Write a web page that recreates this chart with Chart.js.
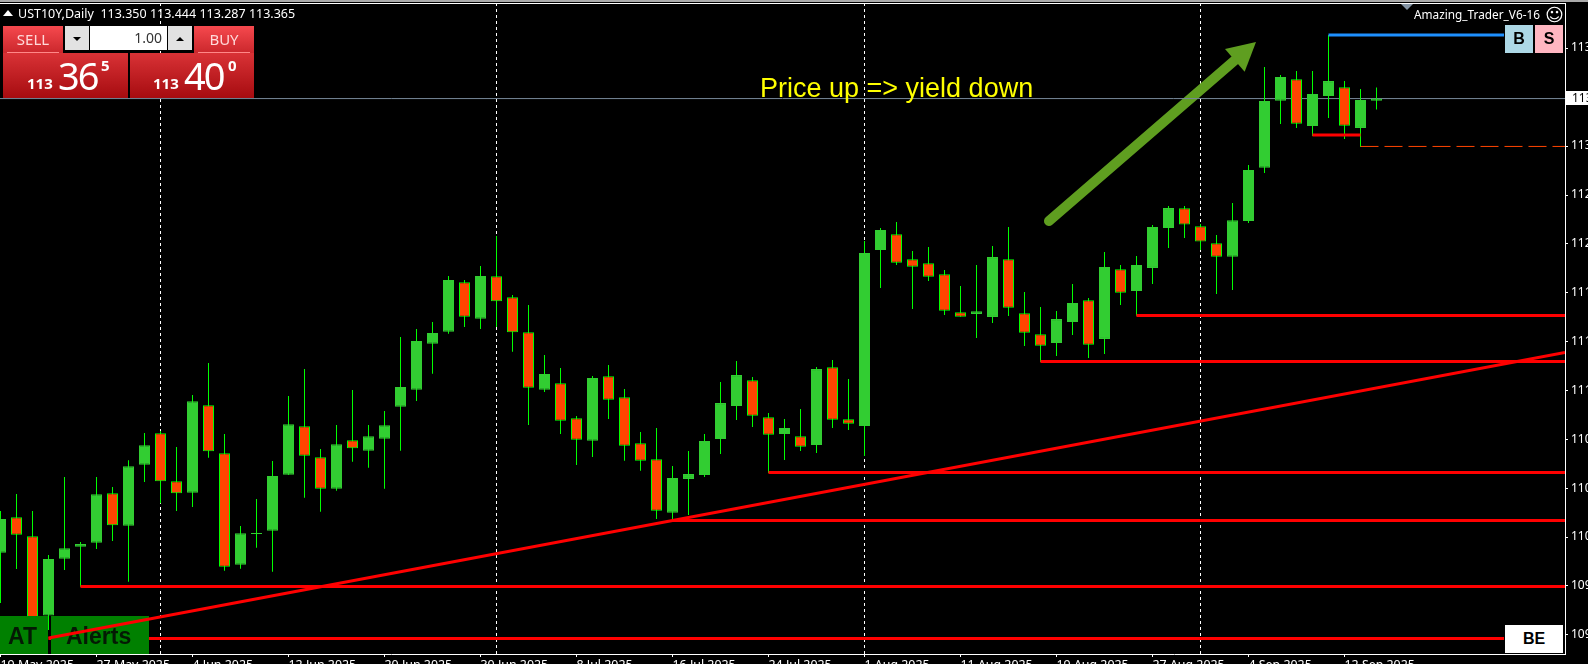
<!DOCTYPE html>
<html>
<head>
<meta charset="utf-8">
<title>UST10Y Daily</title>
<script src="https://cdn.jsdelivr.net/npm/chart.js@4/dist/chart.umd.min.js"></script>
<style>
  html, body { margin: 0; padding: 0; background: #000; overflow: hidden; }
  #wrap { position: relative; width: 1588px; height: 664px; overflow: hidden; font-family: "Noto Sans", sans-serif; color: #fff; }
  #wrap div, #wrap span { position: absolute; white-space: nowrap; }
  canvas { position: absolute; left: 0; top: 0; }
  .redTop { background: linear-gradient(#f6494e, #c9262b); color: #ffd9d9; font-size: 15px; text-align: center; line-height: 26px; }
  .redBig { background: linear-gradient(#d93236, #a60c10); }
  .small { font-size: 15px; font-weight: bold; }
  .big { font-size: 38px; letter-spacing: -2px; }
  .spin { background: #e2e2e2; }
  .sideBtn { color: #000; font: bold 16px "Liberation Sans", sans-serif; text-align: center; line-height: 28px; }
</style>
</head>
<body>
<div id="wrap">
  <canvas id="myChart" width="1588" height="664"></canvas>

  <div style="left:0;top:0;width:1588px;height:2px;background:#aaa"></div>
  <div style="left:0;top:3px;width:1565px;height:1px;background:#fff"></div>

  <div style="left:3px;top:10px;width:0;height:0;border-left:5px solid transparent;border-right:5px solid transparent;border-bottom:6px solid #fff"></div>
  <div style="left:18px;top:5px;font-size:12.5px;line-height:17px;white-space:pre">UST10Y,Daily  113.350 113.444 113.287 113.365</div>

  <div class="redTop" style="left:3px;top:26px;width:60px;height:28px">SELL</div>
  <div style="left:7px;top:52px;width:52px;height:1px;background:#f88"></div>
  <div class="redBig" style="left:3px;top:53px;width:125px;height:45px"></div>
  <span class="small" style="left:27px;top:73px">113</span>
  <span class="big" style="left:58px;top:49px">36</span>
  <span class="small" style="left:101px;top:55px">5</span>

  <div class="redTop" style="left:194px;top:26px;width:60px;height:28px">BUY</div>
  <div style="left:198px;top:52px;width:52px;height:1px;background:#f88"></div>
  <div class="redBig" style="left:130px;top:53px;width:124px;height:45px"></div>
  <span class="small" style="left:153px;top:73px">113</span>
  <span class="big" style="left:184px;top:49px">40</span>
  <span class="small" style="left:228px;top:55px">0</span>

  <div class="spin" style="left:65px;top:26px;width:24px;height:24px"></div>
  <div style="left:73px;top:37px;width:0;height:0;border-left:4px solid transparent;border-right:4px solid transparent;border-top:4px solid #000"></div>
  <div style="left:90px;top:26px;width:77px;height:24px;background:#fff;color:#333;font-size:14px;line-height:24px;text-align:right;padding-right:5px;box-sizing:border-box">1.00</div>
  <div class="spin" style="left:168px;top:26px;width:24px;height:24px"></div>
  <div style="left:176px;top:37px;width:0;height:0;border-left:4px solid transparent;border-right:4px solid transparent;border-bottom:4px solid #000"></div>

  <div style="left:760px;top:73px;font:27px 'Liberation Sans', sans-serif;color:#ffff00">Price up =&gt; yield down</div>

  <div style="left:1401px;top:4px;width:0;height:0;border-left:6px solid transparent;border-right:6px solid transparent;border-top:6px solid #8494a4"></div>
  <div style="left:1414px;top:6px;font-size:11.8px;line-height:17px">Amazing_Trader_V6-16</div>
  <div style="left:1545px;top:3px;font:18px 'DejaVu Sans', sans-serif;line-height:24px">☺</div>

  <div class="sideBtn" style="left:1505px;top:25px;width:28px;height:28px;background:#add8e6">B</div>
  <div class="sideBtn" style="left:1535px;top:25px;width:28px;height:28px;background:#ffb6c1">S</div>
  <div class="sideBtn" style="left:1505px;top:625px;width:58px;height:28px;background:#fff">BE</div>

  <div style="left:1566px;top:91px;width:22px;height:14px;background:#fff;color:#000;font-size:12px;line-height:14px;padding-left:6px;box-sizing:border-box">113</div>
</div>

<script>
'use strict';

// daily bars, 19 May 2025 to the last bar
let opens = [
  110.121, 110.374, 110.238, 109.673, 110.078, 110.164, 110.193, 110.545, 110.314, 110.750,
  110.974, 110.631, 110.550, 111.174, 110.831, 110.035, 110.255, 110.278, 110.678, 111.024,
  110.803, 110.578, 110.924, 110.850, 110.935, 111.164, 111.285, 111.614, 111.700, 112.053,
  111.793, 112.095, 111.945, 111.695, 111.285, 111.331, 111.081, 110.921, 111.381, 111.231,
  110.903, 110.788, 110.407, 110.648, 110.676, 110.933, 111.169, 111.353, 111.088, 110.969,
  110.953, 110.890, 111.445, 111.074, 111.026, 112.283, 112.395, 112.217, 112.188, 112.110,
  111.838, 111.826, 111.805, 112.217, 111.831, 111.681, 111.619, 111.769, 111.924, 111.648,
  112.145, 111.990, 112.155, 112.440, 112.581, 112.453, 112.331, 112.235, 112.490, 112.871,
  113.350, 113.503, 113.169, 113.383, 113.445, 113.155, 113.350
];
let highs = [
  110.419, 110.540, 110.419, 110.105, 110.662, 110.198, 110.662, 110.590, 110.781, 110.976,
  110.990, 110.876, 111.248, 111.476, 110.969, 110.312, 110.505, 110.776, 111.240, 111.433,
  110.862, 111.033, 111.283, 111.033, 111.133, 111.662, 111.719, 111.769, 112.098, 112.069,
  112.169, 112.383, 111.962, 111.890, 111.533, 111.440, 111.098, 111.383, 111.462, 111.290,
  110.983, 111.012, 110.740, 110.848, 110.969, 111.340, 111.490, 111.376, 111.119, 111.076,
  111.148, 111.448, 111.498, 111.362, 112.348, 112.440, 112.483, 112.276, 112.305, 112.140,
  112.026, 112.176, 112.312, 112.448, 111.983, 111.876, 111.848, 112.040, 111.940, 112.269,
  112.176, 112.240, 112.462, 112.598, 112.598, 112.469, 112.390, 112.619, 112.890, 113.590,
  113.533, 113.562, 113.562, 113.819, 113.490, 113.433, 113.444
];
let lows = [
  109.762, 110.005, 109.569, 109.569, 109.998, 109.878, 110.148, 110.205, 109.914, 110.626,
  110.474, 110.419, 110.448, 110.800, 109.993, 110.007, 110.157, 109.985, 110.676, 110.514,
  110.414, 110.564, 110.771, 110.728, 110.578, 110.850, 111.205, 111.400, 111.685, 111.733,
  111.719, 111.733, 111.557, 111.033, 111.269, 110.969, 110.748, 110.805, 111.076, 110.778,
  110.707, 110.362, 110.362, 110.390, 110.662, 110.826, 111.069, 111.019, 110.690, 110.783,
  110.848, 110.833, 111.012, 110.998, 110.812, 112.012, 112.176, 111.862, 112.062, 111.819,
  111.807, 111.655, 111.762, 111.812, 111.598, 111.483, 111.526, 111.676, 111.512, 111.540,
  111.890, 111.814, 112.040, 112.298, 112.369, 112.283, 111.969, 111.998, 112.476, 112.833,
  113.183, 113.155, 113.098, 113.226, 113.076, 113.019, 113.287
];
let closes = [
  110.362, 110.250, 109.626, 110.076, 110.153, 110.183, 110.538, 110.317, 110.738, 110.888,
  110.631, 110.545, 111.203, 110.845, 110.021, 110.260, 110.260, 110.669, 111.038, 110.814,
  110.578, 110.895, 110.867, 110.953, 111.031, 111.305, 111.633, 111.690, 112.069, 111.807,
  112.098, 111.917, 111.695, 111.300, 111.398, 111.064, 110.928, 111.369, 111.214, 110.885,
  110.778, 110.421, 110.655, 110.683, 110.919, 111.190, 111.390, 111.100, 110.964, 111.012,
  110.878, 111.433, 111.071, 111.043, 112.262, 112.426, 112.193, 112.164, 112.093, 111.850,
  111.807, 111.845, 112.233, 111.871, 111.693, 111.600, 111.790, 111.905, 111.607, 112.162,
  111.978, 112.176, 112.448, 112.583, 112.465, 112.344, 112.235, 112.495, 112.855, 113.348,
  113.519, 113.185, 113.398, 113.490, 113.171, 113.355, 113.365
];

// axes
let dateLabels = ['19 May 2025', '27 May 2025', '4 Jun 2025', '12 Jun 2025', '20 Jun 2025', '30 Jun 2025', '8 Jul 2025', '16 Jul 2025', '24 Jul 2025', '1 Aug 2025', '11 Aug 2025', '19 Aug 2025', '27 Aug 2025', '4 Sep 2025', '12 Sep 2025'];
let dateTickBars = [0, 6, 12, 18, 24, 30, 36, 42, 48, 54, 60, 66, 72, 78, 84];
let priceTicks = [113.726, 113.376, 113.026, 112.676, 112.327, 111.980, 111.630, 111.281, 110.932, 110.582, 110.233, 109.884, 109.535];
let priceLabels = ['113', '113', '113', '112', '112', '111', '111', '111', '110', '110', '110', '109', '109'];
let xMin = -0.03125;
let xMax = 97.78125;
let yMin = 109.3976;
let yMax = 114.0476;

// month separators
let separatorBars = [10, 31, 54, 75];

// drawn objects on the chart
let bidPrice = 113.365;
let levelPrices = [111.815, 111.487, 110.694, 110.351, 109.880, 109.508];
let levelStarts = [71, 65, 48, 42, 5, 3];
let levelEnds = [97.78, 97.78, 97.78, 97.78, 97.78, 93.97];
let bluePrice = 113.819;
let blueBars = [83, 93.97];
let shortRedPrice = 113.105;
let shortRedBars = [82, 85];
let dashedPrice = 113.023;
let dashedBars = [85, 97.78];
let trendBars = [3, 97.78];
let trendPrices = [109.512, 111.551];
let arrowBars = [65.53, 78.47];
let arrowPrices = [112.490, 113.769];

let green = '#32cd32';
let lime = '#00ff00';
let orange = '#ff4500';

function hLine(label, price, from, to, color, width, order, dash) {
  return {
    type: 'line',
    label: label,
    data: [{ x: from, y: price }, { x: to, y: price }],
    borderColor: color,
    borderWidth: width,
    borderDash: dash || [],
    pointRadius: 0,
    order: order
  };
}

let wickBars = [];
let bodyBars = [];
let bodyColors = [];
let edgeColors = [];
for (let i = 0; i < opens.length; i++) {
  wickBars.push({ x: i, y: [lows[i], highs[i]] });
  bodyBars.push({ x: i, y: [opens[i], closes[i]] });
  bodyColors.push(closes[i] >= opens[i] ? green : orange);
  edgeColors.push(closes[i] >= opens[i] ? green : lime);
}

let datasets = [];

for (let i = 0; i < separatorBars.length; i++) {
  datasets.push({
    type: 'line',
    label: 'separator' + i,
    data: [{ x: separatorBars[i], y: yMax }, { x: separatorBars[i], y: yMin }],
    borderColor: '#fff',
    borderWidth: 1,
    borderDash: [3, 3],
    pointRadius: 0,
    order: 100
  });
}

datasets.push(hLine('bid', bidPrice, xMin, xMax, '#778899', 1, 90));

datasets.push({
  type: 'bar',
  label: 'wicks',
  data: wickBars,
  backgroundColor: lime,
  borderWidth: 0,
  barThickness: 1,
  grouped: false,
  inflateAmount: 0,
  order: 80
});
datasets.push({
  type: 'bar',
  label: 'bodies',
  data: bodyBars,
  backgroundColor: bodyColors,
  borderColor: edgeColors,
  borderWidth: 1,
  borderSkipped: false,
  barThickness: 11,
  minBarLength: 1,
  grouped: false,
  inflateAmount: 0,
  order: 70
});

for (let i = 0; i < levelPrices.length; i++) {
  datasets.push(hLine('level' + i, levelPrices[i], levelStarts[i], levelEnds[i], '#ff0000', 3, 60));
}
datasets.push(hLine('blue', bluePrice, blueBars[0], blueBars[1], '#1e90ff', 3, 60));
datasets.push(hLine('shortRed', shortRedPrice, shortRedBars[0], shortRedBars[1], '#ff0000', 3, 60));
datasets.push(hLine('dashed', dashedPrice, dashedBars[0], dashedBars[1], orange, 1, 60, [18, 6]));

datasets.push({
  type: 'line',
  label: 'trend',
  data: [{ x: trendBars[0], y: trendPrices[0] }, { x: trendBars[1], y: trendPrices[1] }],
  borderColor: '#ff0000',
  borderWidth: 3,
  pointRadius: 0,
  order: 50
});

// arrow goes over the separators, buttons go under the trend line
let overlayPlugin = {
  id: 'overlay',
  beforeDatasetDraw: function (chart, args) {
    if (chart.data.datasets[args.index].label === 'bid') {
      drawArrow(chart);
    }
    if (chart.data.datasets[args.index].label === 'trend') {
      drawButtons(chart.ctx);
    }
  }
};

function drawArrow(chart) {
  let ctx = chart.ctx;
  let x0 = chart.scales.x.getPixelForValue(arrowBars[0]);
  let y0 = chart.scales.y.getPixelForValue(arrowPrices[0]);
  let x1 = chart.scales.x.getPixelForValue(arrowBars[1]);
  let y1 = chart.scales.y.getPixelForValue(arrowPrices[1]);
  let len = Math.hypot(x1 - x0, y1 - y0);
  let ux = (x1 - x0) / len;
  let uy = (y1 - y0) / len;
  let bx = x1 - ux * 28;
  let by = y1 - uy * 28;
  ctx.save();
  ctx.strokeStyle = '#5f9e20';
  ctx.fillStyle = '#5f9e20';
  ctx.lineWidth = 10;
  ctx.lineCap = 'round';
  ctx.beginPath();
  ctx.moveTo(x0, y0);
  ctx.lineTo(bx, by);
  ctx.stroke();
  ctx.beginPath();
  ctx.moveTo(x1, y1);
  ctx.lineTo(bx - uy * 15, by + ux * 15);
  ctx.lineTo(bx + uy * 15, by - ux * 15);
  ctx.closePath();
  ctx.fill();
  ctx.restore();
}

function drawButtons(ctx) {
  ctx.save();
  ctx.fillStyle = '#008000';
  ctx.fillRect(0, 616, 48, 38);
  ctx.fillRect(51, 616, 98, 38);
  ctx.fillStyle = '#041a04';
  ctx.font = 'bold 23px "Liberation Sans", sans-serif';
  ctx.textBaseline = 'alphabetic';
  ctx.textAlign = 'left';
  ctx.fillText('AT', 8, 644);
  ctx.fillText('Alerts', 66, 644);
  ctx.restore();
}

new Chart(document.getElementById('myChart'), {
  data: { datasets: datasets },
  plugins: [overlayPlugin],
  options: {
    responsive: false,
    animation: false,
    events: [],
    layout: { padding: { top: 3, left: 0, right: 0, bottom: 0 } },
    plugins: { legend: { display: false }, tooltip: { enabled: false } },
    scales: {
      x: {
        type: 'linear',
        min: xMin,
        max: xMax,
        offset: false,
        border: { color: '#fff', width: 1 },
        grid: { offset: false, drawOnChartArea: false, color: '#fff', tickColor: '#fff', tickLength: 3 },
        afterBuildTicks: function (scale) {
          scale.ticks = dateTickBars.map(function (v) { return { value: v }; });
        },
        afterFit: function (scale) {
          scale.height = 10;
          scale.paddingLeft = 0;
          scale.paddingRight = 0;
        },
        ticks: {
          autoSkip: false,
          maxRotation: 0,
          minRotation: 0,
          align: 'start',
          padding: 1,
          color: '#fff',
          font: { family: '"Noto Sans"', size: 12.4 },
          callback: function (value) { return dateLabels[dateTickBars.indexOf(value)]; }
        }
      },
      y: {
        type: 'linear',
        position: 'right',
        min: yMin,
        max: yMax,
        beginAtZero: false,
        border: { color: '#fff', width: 1 },
        grid: { drawOnChartArea: false, color: '#fff', tickColor: '#fff', tickLength: 3 },
        afterBuildTicks: function (scale) {
          scale.ticks = priceTicks.map(function (v) { return { value: v }; });
        },
        afterFit: function (scale) {
          scale.width = 23;
          scale.paddingTop = 0;
          scale.paddingBottom = 0;
        },
        ticks: {
          autoSkip: false,
          padding: 3,
          color: '#fff',
          font: { family: '"Noto Sans"', size: 12 },
          callback: function (value) { return priceLabels[priceTicks.indexOf(value)]; }
        }
      }
    }
  }
});
</script>
</body>
</html>
